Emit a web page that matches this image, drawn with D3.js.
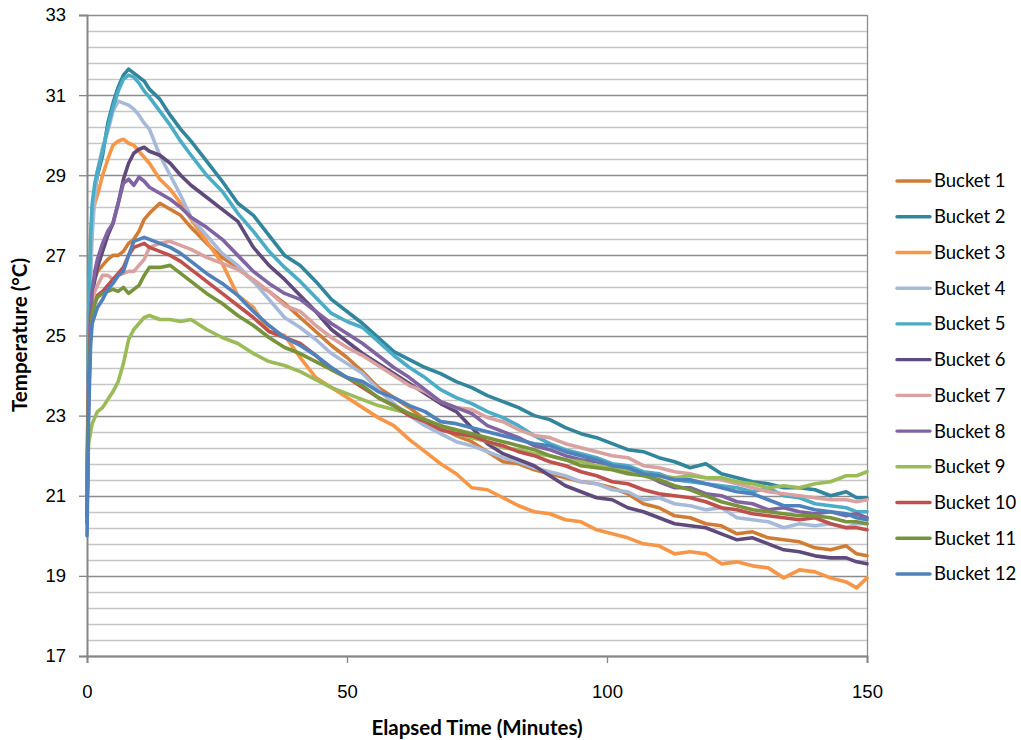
<!DOCTYPE html>
<html>
<head>
<meta charset="utf-8">
<script src="https://cdn.jsdelivr.net/npm/d3@7"></script>
<style>
  body { margin: 0; background: #fff; }
  svg { display: block; font-family: Lato, "Open Sans", sans-serif; }
  .tick text { font-size: 18.5px; fill: #000; }
  .axis-title { font-size: 20.5px; font-weight: bold; fill: #000; }
  .legend text { font-size: 18.5px; fill: #000; }
</style>
</head>
<body>
<svg width="1021" height="740"></svg>
<script>
// readings taken off the chart, minutes since start
const minutes = [0, 0.3, 0.7, 1, 1.5, 2, 3, 4, 5, 6, 7, 8, 9, 10, 11, 12, 14, 16, 18, 20,
  23, 26, 29, 32, 35, 38, 41, 44, 47, 50, 53, 56, 59, 62, 65, 68, 71, 74, 77, 80,
  83, 86, 89, 92, 95, 98, 101, 104, 107, 110, 113, 116, 119, 122, 125, 128, 131, 134,
  137, 140, 143, 146, 148, 150];

const bucket1 = [20.5, 24.5, 25.8, 26.2, 26.4, 26.6, 26.75, 26.9, 27.0, 27.0, 27.1, 27.3, 27.4, 27.6, 27.9, 28.05, 28.3, 28.15, 28.0, 27.7,
  27.3, 26.95, 26.7, 26.35, 26.1, 25.8, 25.45, 25.1, 24.75, 24.45, 24.1, 23.7, 23.45, 23.2, 22.9, 22.7, 22.5, 22.35, 22.1, 21.85,
  21.8, 21.65, 21.55, 21.45, 21.35, 21.3, 21.2, 21.05, 20.8, 20.7, 20.5, 20.45, 20.3, 20.25, 20.05, 20.1, 19.95, 19.9,
  19.85, 19.7, 19.65, 19.75, 19.55, 19.5];
const bucket2 = [20.5, 25.0, 27.0, 27.9, 28.6, 29.0, 29.5, 30.3, 30.8, 31.2, 31.5, 31.65, 31.55, 31.45, 31.35, 31.15, 30.9, 30.5, 30.15, 29.85,
  29.35, 28.85, 28.3, 28.0, 27.5, 27.0, 26.75, 26.35, 25.9, 25.6, 25.3, 24.95, 24.6, 24.4, 24.2, 24.05, 23.85, 23.7, 23.5, 23.35,
  23.2, 23.0, 22.9, 22.7, 22.55, 22.45, 22.3, 22.15, 22.1, 21.95, 21.85, 21.7, 21.8, 21.55, 21.45, 21.35, 21.3, 21.2,
  21.2, 21.15, 21.0, 21.1, 20.95, 20.95];
const bucket3 = [20.5, 25.0, 27.5, 28.0, 28.3, 28.5, 29.0, 29.4, 29.75, 29.85, 29.9, 29.8, 29.75, 29.6, 29.45, 29.3, 28.9, 28.65, 28.3, 27.9,
  27.35, 26.8, 26.0, 25.7, 25.1, 25.0, 24.45, 23.95, 23.7, 23.45, 23.2, 22.95, 22.75, 22.4, 22.1, 21.8, 21.55, 21.2, 21.15, 20.95,
  20.75, 20.6, 20.55, 20.4, 20.35, 20.15, 20.05, 19.95, 19.8, 19.75, 19.55, 19.6, 19.55, 19.3, 19.35, 19.25, 19.2, 18.95,
  19.15, 19.1, 18.95, 18.85, 18.7, 18.95];
const bucket4 = [20.5, 24.5, 26.5, 27.5, 28.5, 29.1, 29.7, 30.1, 30.6, 30.85, 30.8, 30.75, 30.65, 30.5, 30.3, 30.15, 29.5, 29.0, 28.5, 27.95,
  27.5, 27.05, 26.75, 26.35, 25.9, 25.45, 25.2, 24.9, 24.55, 24.3, 24.05, 23.65, 23.3, 23.0, 22.75, 22.55, 22.35, 22.25, 22.1, 21.95,
  21.85, 21.7, 21.6, 21.5, 21.35, 21.3, 21.15, 21.1, 20.9, 20.95, 20.8, 20.75, 20.65, 20.7, 20.45, 20.4, 20.35, 20.2,
  20.3, 20.25, 20.3, 20.2, 20.3, 20.3];
const bucket5 = [20.5, 25.5, 27.5, 28.3, 28.8, 29.1, 29.6, 30.2, 30.7, 31.1, 31.4, 31.5, 31.45, 31.3, 31.1, 30.95, 30.6, 30.25, 29.85, 29.5,
  29.0, 28.6, 28.05, 27.6, 27.1, 26.7, 26.35, 25.95, 25.55, 25.35, 25.2, 24.85, 24.5, 24.2, 23.95, 23.65, 23.45, 23.3, 23.1, 22.95,
  22.75, 22.5, 22.3, 22.15, 22.05, 21.95, 21.8, 21.75, 21.6, 21.55, 21.4, 21.35, 21.3, 21.25, 21.2, 21.1, 21.2, 21.0,
  20.95, 20.8, 20.75, 20.7, 20.6, 20.6];
const bucket6 = [20.5, 24.0, 25.5, 26.0, 26.4, 26.7, 27.1, 27.5, 27.8, 28.3, 28.9, 29.3, 29.55, 29.65, 29.7, 29.6, 29.5, 29.3, 29.0, 28.75,
  28.45, 28.15, 27.85, 27.2, 26.75, 26.4, 26.0, 25.6, 25.15, 24.85, 24.55, 24.3, 24.05, 23.8, 23.55, 23.3, 23.1, 22.7, 22.3, 22.05,
  21.9, 21.75, 21.5, 21.25, 21.1, 20.95, 20.9, 20.7, 20.6, 20.45, 20.3, 20.25, 20.2, 20.05, 19.9, 19.95, 19.8, 19.65,
  19.6, 19.5, 19.45, 19.45, 19.35, 19.3];
const bucket7 = [20.5, 24.0, 25.5, 25.9, 26.1, 26.25, 26.5, 26.5, 26.4, 26.5, 26.55, 26.6, 26.6, 26.75, 26.9, 27.2, 27.3, 27.35, 27.25, 27.15,
  26.95, 26.8, 26.65, 26.4, 26.1, 25.75, 25.6, 25.25, 24.95, 24.7, 24.5, 24.25, 24.0, 23.75, 23.6, 23.35, 23.2, 23.15, 22.95, 22.85,
  22.65, 22.5, 22.45, 22.3, 22.2, 22.1, 22.0, 21.95, 21.75, 21.7, 21.6, 21.55, 21.45, 21.4, 21.3, 21.2, 21.1, 21.05,
  21.0, 20.95, 20.9, 20.9, 20.85, 20.9];
const bucket8 = [20.3, 23.5, 25.5, 26.1, 26.6, 26.9, 27.3, 27.6, 27.8, 28.3, 28.8, 28.9, 28.75, 28.95, 28.85, 28.7, 28.55, 28.4, 28.2, 27.95,
  27.7, 27.4, 27.0, 26.6, 26.3, 26.05, 25.9, 25.6, 25.3, 25.05, 24.8, 24.5, 24.2, 23.95, 23.65, 23.35, 23.2, 23.05, 22.75, 22.6,
  22.45, 22.25, 22.15, 22.0, 21.9, 21.85, 21.75, 21.6, 21.55, 21.35, 21.2, 21.2, 21.05, 21.0, 20.85, 20.8, 20.65, 20.7,
  20.6, 20.55, 20.6, 20.5, 20.55, 20.45];
const bucket9 = [21.0, 22.3, 22.6, 22.8, 22.95, 23.1, 23.2, 23.4, 23.6, 23.85, 24.3, 24.9, 25.15, 25.3, 25.45, 25.5, 25.4, 25.4, 25.35, 25.4,
  25.15, 24.95, 24.8, 24.55, 24.35, 24.25, 24.1, 23.9, 23.7, 23.55, 23.4, 23.25, 23.15, 23.05, 22.9, 22.75, 22.55, 22.45, 22.35, 22.2,
  22.15, 22.05, 22.0, 21.9, 21.85, 21.75, 21.7, 21.65, 21.55, 21.5, 21.45, 21.5, 21.45, 21.45, 21.35, 21.3, 21.2, 21.25,
  21.2, 21.3, 21.35, 21.5, 21.5, 21.6];
const bucket10 = [20.5, 23.5, 25.2, 25.6, 25.8, 26.0, 26.1, 26.25, 26.4, 26.55, 26.7, 27.0, 27.2, 27.25, 27.3, 27.2, 27.1, 27.0, 26.85, 26.65,
  26.35, 26.05, 25.75, 25.45, 25.1, 24.95, 24.8, 24.5, 24.15, 23.95, 23.7, 23.45, 23.25, 23.0, 22.85, 22.65, 22.55, 22.5, 22.35, 22.25,
  22.1, 22.0, 21.85, 21.75, 21.6, 21.5, 21.35, 21.3, 21.15, 21.05, 21.0, 20.95, 20.85, 20.7, 20.65, 20.55, 20.5, 20.45,
  20.4, 20.45, 20.3, 20.2, 20.2, 20.15];
const bucket11 = [20.8, 23.5, 25.0, 25.5, 25.8, 25.95, 26.05, 26.1, 26.15, 26.1, 26.2, 26.05, 26.15, 26.25, 26.5, 26.7, 26.7, 26.75, 26.55, 26.35,
  26.05, 25.8, 25.5, 25.25, 24.95, 24.7, 24.55, 24.35, 24.15, 23.95, 23.75, 23.45, 23.25, 23.05, 22.9, 22.75, 22.65, 22.55, 22.45, 22.35,
  22.25, 22.15, 22.0, 21.9, 21.75, 21.7, 21.65, 21.55, 21.5, 21.4, 21.25, 21.15, 21.0, 20.85, 20.75, 20.65, 20.6, 20.55,
  20.5, 20.5, 20.45, 20.35, 20.35, 20.3];
const bucket12 = [20.0, 23.0, 24.8, 25.3, 25.5, 25.7, 25.9, 26.15, 26.3, 26.5, 26.6, 27.0, 27.35, 27.4, 27.45, 27.4, 27.3, 27.2, 27.05, 26.85,
  26.55, 26.3, 26.0, 25.6, 25.25, 24.95, 24.75, 24.5, 24.2, 23.95, 23.85, 23.6, 23.45, 23.25, 23.1, 22.85, 22.8, 22.7, 22.6, 22.5,
  22.4, 22.3, 22.25, 22.1, 22.0, 21.9, 21.75, 21.7, 21.55, 21.5, 21.4, 21.4, 21.3, 21.2, 21.1, 21.05, 20.9, 20.75,
  20.75, 20.65, 20.6, 20.55, 20.45, 20.4];

const seriesNames = ["Bucket 1", "Bucket 2", "Bucket 3", "Bucket 4", "Bucket 5", "Bucket 6",
  "Bucket 7", "Bucket 8", "Bucket 9", "Bucket 10", "Bucket 11", "Bucket 12"];
const seriesValues = [bucket1, bucket2, bucket3, bucket4, bucket5, bucket6,
  bucket7, bucket8, bucket9, bucket10, bucket11, bucket12];
const seriesColors = ["#D07C35", "#31859C", "#F79646", "#A7B9D9", "#4BACC6", "#604A7B",
  "#D9A19F", "#8064A2", "#9BBB59", "#C0504D", "#77933C", "#4F81BD"];

const yTicks = [17, 19, 21, 23, 25, 27, 29, 31, 33];
const xTicks = [0, 50, 100, 150];

const margin = { left: 87, top: 15 };
const width = 780;
const height = 641;

const svg = d3.select("svg");
const chart = svg.append("g")
  .attr("transform", `translate(${margin.left}, ${margin.top})`);

const xScale = d3.scaleLinear().domain([0, 150]).range([0, width]);
const yScale = d3.scaleLinear().domain([17, 33]).range([height, 0]);

// gridlines every 0.4 degrees, darker on the labelled ones
const gridVals = d3.range(0, 41).map(i => ({ v: 17 + i * 0.4, major: i % 5 === 0 }));
chart.append("g")
  .selectAll("line")
  .data(gridVals)
  .join("line")
  .attr("x1", 0)
  .attr("x2", width)
  .attr("y1", d => Math.round(yScale(d.v)) + 0.5)
  .attr("y2", d => Math.round(yScale(d.v)) + 0.5)
  .attr("stroke", d => d.major ? "#8C8C8C" : "#C6C6C6")
  .attr("stroke-width", d => d.major ? 1.3 : 1.5);

// right edge of the plot area
chart.append("line")
  .attr("x1", width + 0.5).attr("x2", width + 0.5)
  .attr("y1", 0).attr("y2", height)
  .attr("stroke", "#8C8C8C").attr("stroke-width", 1.3);

const yAxis = chart.append("g")
  .call(d3.axisLeft(yScale).tickValues(yTicks).tickSize(8).tickPadding(13).tickFormat(d3.format("d")));
const xAxis = chart.append("g")
  .attr("transform", `translate(0, ${height})`)
  .call(d3.axisBottom(xScale).tickValues(xTicks).tickSize(7).tickPadding(22));

[yAxis, xAxis].forEach(ax => {
  ax.select(".domain").attr("stroke", "#868686").attr("stroke-width", 2);
  ax.selectAll(".tick line").attr("stroke", "#868686").attr("stroke-width", 1.3);
  ax.selectAll(".tick text").attr("font-family", null).attr("font-size", null);
});

const line = d3.line()
  .x((d, i) => xScale(minutes[i]))
  .y(d => yScale(d));

chart.append("g")
  .selectAll("path")
  .data(seriesValues)
  .join("path")
  .attr("d", d => line(d))
  .attr("fill", "none")
  .attr("stroke", (d, i) => seriesColors[i])
  .attr("stroke-width", 3.6)
  .attr("stroke-linejoin", "round")
  .attr("stroke-linecap", "round");

// axis titles
svg.append("text")
  .attr("class", "axis-title")
  .attr("transform", "translate(27, 335) rotate(-90)")
  .attr("text-anchor", "middle")
  .text("Temperature (°C)");

svg.append("text")
  .attr("class", "axis-title")
  .attr("x", 477)
  .attr("y", 735)
  .attr("text-anchor", "middle")
  .text("Elapsed Time (Minutes)");

// legend
const legendY = d3.scalePoint().domain(seriesNames).range([181, 574]);
const legend = svg.append("g").attr("class", "legend");
const items = legend.selectAll("g")
  .data(seriesNames)
  .join("g")
  .attr("transform", d => `translate(897, ${legendY(d)})`);
items.append("line")
  .attr("x1", 0).attr("x2", 33)
  .attr("y1", 0).attr("y2", 0)
  .attr("stroke", (d, i) => seriesColors[i])
  .attr("stroke-width", 3.4)
  .attr("stroke-linecap", "round");
items.append("text")
  .attr("x", 37)
  .attr("dy", "0.35em")
  .text(d => d);
</script>
</body>
</html>
